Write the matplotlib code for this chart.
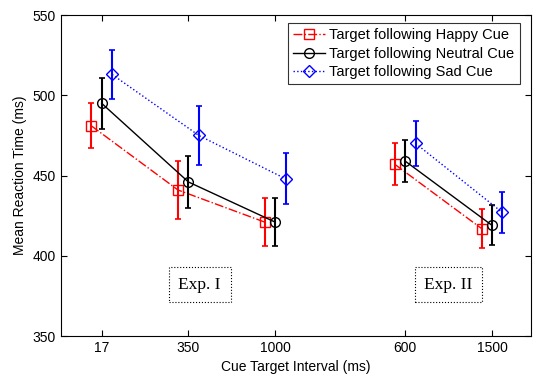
import numpy as np
import matplotlib
matplotlib.use("Agg")
import matplotlib.pyplot as plt

plt.rcParams["font.family"] = ["Liberation Sans", "DejaVu Sans"]

tick_labels = ["17", "350", "1000", "600", "1500"]
positions = [1, 2, 3, 4.5, 5.5]
groups = [[0, 1, 2], [3, 4]]

happy = [481, 441, 421, 457, 417]
happy_err = [14, 18, 15, 13, 12]
neutral = [495, 446, 421, 459, 419]
neutral_err = [16, 16, 15, 13, 12.5]
sad = [513, 475, 448, 470, 427]
sad_err = [15, 18.5, 16, 14, 13]

series = [
    ("Target following Happy Cue", happy, happy_err, -0.12, "red", "-.", "s"),
    ("Target following Neutral Cue", neutral, neutral_err, 0.0, "black", "-", "o"),
    ("Target following Sad Cue", sad, sad_err, 0.12, "blue", ":", "D"),
]

fig = plt.figure(figsize=(5.33, 3.78), dpi=100)
ax = fig.add_axes([0.1144, 0.111, 0.8818, 0.849])

for label, vals, errs, off, color, ls, mk in series:
    for gi, g in enumerate(groups):
        xs = [positions[i] + off for i in g]
        ys = [vals[i] for i in g]
        es = [errs[i] for i in g]
        ax.errorbar(xs, ys, yerr=es, fmt="none", ecolor=color, elinewidth=1.5,
                    capsize=2, capthick=1.2)
        ax.plot(xs, ys, linestyle=ls, color=color, linewidth=1,
                marker=mk, markersize=7 if mk != "D" else 6,
                markerfacecolor="none", markeredgecolor=color, markeredgewidth=1,
                label=label if gi == 0 else None)

ax.set_xlim(0.53, 5.95)
ax.set_ylim(350, 550)
ax.set_xticks(positions)
ax.set_xticklabels(tick_labels)
ax.set_yticks(np.arange(350, 551, 50))
ax.tick_params(direction="in", top=True, right=True, labelsize=10, length=4)
ax.set_xlabel("Cue Target Interval (ms)", fontsize=10)
ax.set_ylabel("Mean Reaction Time (ms)", fontsize=10)

box = dict(boxstyle="square,pad=0.55", facecolor="white", edgecolor="black",
           linestyle=":", linewidth=0.8)
ax.text(2.13, 382, "Exp. I", family=["Liberation Serif", "DejaVu Serif"],
        fontsize=12.5, ha="center", va="center", bbox=box)
ax.text(5.0, 382, "Exp. II", family=["Liberation Serif", "DejaVu Serif"],
        fontsize=12.5, ha="center", va="center", bbox=box)

leg = ax.legend(loc="upper right", bbox_to_anchor=(0.976, 0.975), fontsize=10.5,
                frameon=True, fancybox=False, edgecolor="black", borderaxespad=0,
                handlelength=2.2, handletextpad=0.3, borderpad=0.35,
                labelspacing=0.3)
leg.get_frame().set_linewidth(0.8)

fig.savefig("out.png", dpi=100)
